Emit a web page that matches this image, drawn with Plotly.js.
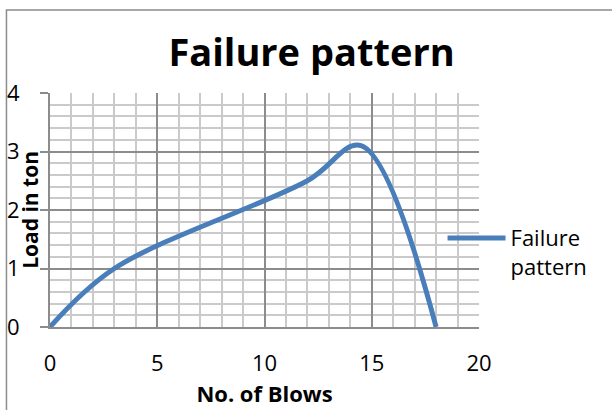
<!DOCTYPE html>
<html>
<head>
<meta charset="utf-8">
<script src="https://cdn.plot.ly/plotly-3.0.1.min.js"></script>
<style>html,body{margin:0;padding:0;background:#fff;}#chart{width:612px;height:410px;}</style>
</head>
<body>
<div id="chart"></div>
<script>
const blows = [0, 3, 12, 14.5, 18];
const load = [0, 1, 2.5, 3.1, 0];
const seriesName = "Failure<br>pattern";
const xTicks = [0, 5, 10, 15, 20];
const yTicks = [0, 1, 2, 3, 4];

const FONT = "'Open Sans', sans-serif";

const trace = {
  x: blows, y: load, type: "scatter", mode: "lines",
  name: seriesName,
  line: {color: "#4a7ebb", width: 5, shape: "spline", smoothing: 1},
  hoverinfo: "none"
};

const layout = {
  width: 612, height: 410,
  margin: {l: 50, r: 133, t: 93, b: 83},
  paper_bgcolor: "#fff", plot_bgcolor: "#fff",
  font: {family: FONT, color: "#000"},
  title: {text: "<b>Failure pattern</b>", font: {size: 38, family: FONT, color: "#000"}, x: 0.509, xanchor: "center", y: 0.872, yanchor: "middle"},
  showlegend: true,
  legend: {x: 0.915, xanchor: "left", y: 0.318, yanchor: "middle", valign: "top", font: {size: 22, family: FONT}, itemwidth: 58, bgcolor: "rgba(0,0,0,0)"},
  xaxis: {
    range: [xTicks[0], xTicks[xTicks.length - 1]], tickmode: "linear", tick0: xTicks[0], dtick: xTicks[1] - xTicks[0],
    showgrid: true, gridcolor: "#8c8c8c", gridwidth: 2,
    minor: {dtick: 1, showgrid: true, gridcolor: "#cacaca", gridwidth: 2, ticks: ""},
    zeroline: false, showline: true, linecolor: "#8c8c8c", linewidth: 2,
    ticks: "", tickfont: {size: 22, family: FONT}, ticklabelstandoff: 16,
    title: {text: "<b>No. of Blows</b>", font: {size: 22, family: FONT}, standoff: 10},
    fixedrange: true
  },
  yaxis: {
    range: [yTicks[0], yTicks[yTicks.length - 1]], tickmode: "linear", tick0: yTicks[0], dtick: yTicks[1] - yTicks[0],
    showgrid: true, gridcolor: "#8c8c8c", gridwidth: 2,
    minor: {dtick: 0.2, showgrid: true, gridcolor: "#cacaca", gridwidth: 2, ticks: ""},
    zeroline: false, showline: true, linecolor: "#8c8c8c", linewidth: 2,
    ticks: "outside", ticklen: 8, tickcolor: "#8c8c8c", tickwidth: 2,
    tickfont: {size: 22, family: FONT}, ticklabelstandoff: 16,
    fixedrange: true
  },
  annotations: [{
    text: "<b>Load in ton</b>", textangle: -90, xref: "paper", yref: "paper",
    x: -0.047, y: 0.5, xanchor: "center", yanchor: "middle", showarrow: false,
    font: {size: 21, family: FONT, color: "#000"}
  }],
  shapes: [{
    type: "rect", xref: "paper", yref: "paper",
    x0: -0.1015, x1: 1.5, y0: -0.6, y1: 1.355,
    line: {color: "#8c8c8c", width: 1.5}, fillcolor: "rgba(0,0,0,0)", layer: "below"
  }]
};

Plotly.newPlot("chart", [trace], layout, {displayModeBar: false, staticPlot: true});
</script>
</body>
</html>
